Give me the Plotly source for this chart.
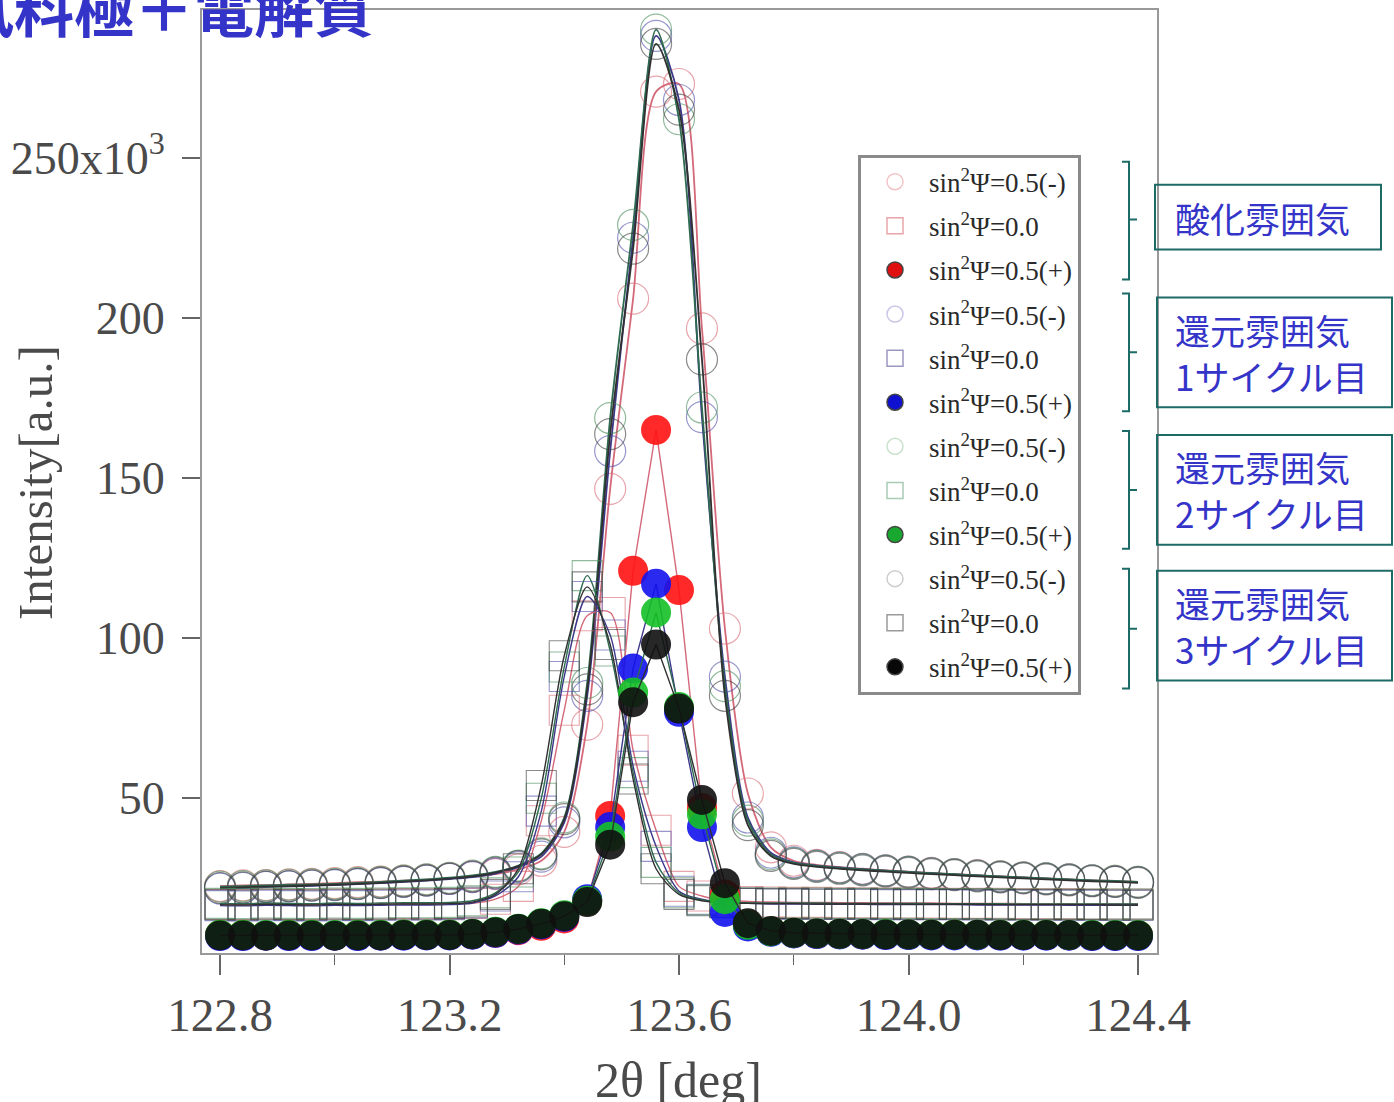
import plotly.graph_objects as go

# ---------------- data (intensity in 10^3 counts) ----------------
TWO_THETA = [122.80, 122.84, 122.88, 122.92, 122.96, 123.00, 123.04, 123.08, 123.12, 123.16,
             123.20, 123.24, 123.28, 123.32, 123.36, 123.40, 123.44, 123.48, 123.52, 123.56,
             123.60, 123.64, 123.68, 123.72, 123.76, 123.80, 123.84, 123.88, 123.92, 123.96,
             124.00, 124.04, 124.08, 124.12, 124.16, 124.20, 124.24, 124.28, 124.32, 124.36,
             124.40]

# oxidation atmosphere
OX_M = [22.6, 22.8, 22.9, 23.1, 23.3, 23.5, 23.8, 24.0, 24.3, 24.6, 25.0, 25.5, 26.3, 27.8, 30.5,
        39.5, 73.0, 146.6, 206.0, 270.6, 273.0, 196.7, 103.0, 51.5, 34.7, 30.5, 29.2, 28.5, 28.0,
        27.5, 27.1, 26.7, 26.3, 26.0, 25.6, 25.3, 25.0, 24.7, 24.4, 24.2, 23.9]
OX_0 = [16.9, 16.8, 17.0, 16.9, 16.8, 17.0, 16.9, 17.0, 17.1, 17.0, 17.1, 17.2, 18.5, 22.5, 43.0,
        77.5, 107.0, 108.0, 65.0, 40.0, 22.5, 19.5, 18.2, 17.8, 17.6, 17.5, 17.5, 17.4, 17.4,
        17.3, 17.3, 17.3, 17.2, 17.2, 17.2, 17.1, 17.1, 17.1, 17.0, 17.0, 17.0]
OX_P = [7.3, 7.3, 7.2, 7.3, 7.3, 7.2, 7.3, 7.3, 7.4, 7.4, 7.4, 7.5, 8.0, 8.8, 10.2,
        12.5, 18.0, 44.5, 121.0, 165.0, 115.0, 47.0, 20.0, 10.5, 8.5, 7.9, 7.7, 7.6, 7.5,
        7.5, 7.4, 7.4, 7.4, 7.3, 7.3, 7.3, 7.3, 7.2, 7.2, 7.2, 7.2]

# reduction atmosphere, cycle 1
R1_M = [21.8, 22.0, 22.3, 22.5, 22.7, 22.9, 23.2, 23.5, 23.9, 24.3, 24.8, 25.4, 26.5, 28.5, 31.8,
        42.5, 82.0, 158.4, 225.0, 288.0, 268.0, 169.0, 88.0, 44.0, 33.0, 30.0, 29.0, 28.4, 27.9,
        27.4, 27.0, 26.6, 26.2, 25.9, 25.5, 25.2, 24.9, 24.6, 24.3, 24.0, 23.8]
R1_0 = [16.5, 16.4, 16.6, 16.5, 16.4, 16.6, 16.5, 16.6, 16.7, 16.7, 16.8, 17.3, 19.5, 25.5, 46.0,
        88.0, 113.0, 101.0, 60.0, 35.0, 21.0, 18.5, 17.5, 17.2, 17.0, 17.0, 16.9, 16.9, 16.9,
        16.8, 16.8, 16.8, 16.8, 16.7, 16.7, 16.7, 16.7, 16.6, 16.6, 16.6, 16.6]
R1_P = [7.0, 7.0, 7.1, 7.0, 7.0, 7.1, 7.0, 7.1, 7.1, 7.2, 7.2, 7.4, 8.0, 9.0, 10.6,
        13.0, 18.5, 41.0, 90.5, 117.0, 77.0, 41.0, 14.5, 10.0, 8.3, 7.8, 7.6, 7.5, 7.4,
        7.3, 7.3, 7.2, 7.2, 7.2, 7.1, 7.1, 7.1, 7.1, 7.0, 7.0, 7.0]

# reduction atmosphere, cycle 2
R2_M = [22.4, 22.6, 22.8, 23.0, 23.1, 23.3, 23.6, 23.9, 24.3, 24.7, 25.2, 25.9, 27.0, 29.0, 32.8,
        44.0, 86.0, 168.7, 229.0, 290.0, 262.0, 172.0, 85.0, 43.0, 32.5, 29.8, 28.9, 28.3, 27.8,
        27.4, 27.0, 26.6, 26.3, 25.9, 25.6, 25.3, 25.0, 24.7, 24.4, 24.2, 23.9]
R2_0 = [17.2, 17.1, 17.3, 17.2, 17.1, 17.3, 17.2, 17.3, 17.4, 17.4, 17.5, 18.0, 20.5, 27.0, 50.0,
        91.0, 119.5, 96.0, 58.0, 30.0, 20.5, 18.3, 17.6, 17.4, 17.3, 17.3, 17.3, 17.2, 17.2,
        17.2, 17.2, 17.1, 17.1, 17.1, 17.1, 17.0, 17.0, 17.0, 17.0, 17.0, 17.0]
R2_P = [7.4, 7.4, 7.3, 7.4, 7.4, 7.3, 7.4, 7.4, 7.5, 7.5, 7.5, 7.7, 8.3, 9.3, 11.0,
        13.5, 18.0, 38.0, 83.0, 108.0, 78.5, 45.0, 18.5, 10.5, 8.5, 8.0, 7.8, 7.7, 7.6,
        7.6, 7.5, 7.5, 7.5, 7.4, 7.4, 7.4, 7.4, 7.3, 7.3, 7.3, 7.3]

# reduction atmosphere, cycle 3
R3_M = [22.0, 22.2, 22.4, 22.6, 22.8, 23.0, 23.3, 23.6, 24.0, 24.4, 24.9, 25.6, 26.8, 28.8, 32.5,
        43.5, 84.0, 163.7, 221.6, 285.5, 265.0, 187.0, 82.0, 41.6, 32.0, 29.5, 28.6, 28.0, 27.5,
        27.1, 26.7, 26.3, 26.0, 25.6, 25.3, 25.0, 24.7, 24.4, 24.1, 23.9, 23.6]
R3_0 = [16.8, 16.7, 16.9, 16.8, 16.7, 16.9, 16.8, 16.9, 17.0, 17.0, 17.1, 17.6, 20.0, 28.0, 54.0,
        94.5, 116.0, 98.0, 56.0, 28.0, 20.0, 18.0, 17.4, 17.2, 17.1, 17.1, 17.0, 17.0, 17.0,
        17.0, 16.9, 16.9, 16.9, 16.9, 16.8, 16.8, 16.8, 16.8, 16.8, 16.7, 16.7]
R3_P = [7.2, 7.2, 7.1, 7.2, 7.2, 7.1, 7.2, 7.2, 7.3, 7.3, 7.3, 7.6, 8.2, 9.2, 10.8,
        13.2, 17.6, 35.5, 80.0, 98.0, 78.0, 49.5, 23.5, 11.0, 8.6, 8.0, 7.8, 7.7, 7.6,
        7.5, 7.5, 7.4, 7.4, 7.4, 7.3, 7.3, 7.3, 7.3, 7.2, 7.2, 7.2]

X_TICKS = [122.8, 123.2, 123.6, 124.0, 124.4]
X_TICK_TEXT = ["122.8", "123.2", "123.6", "124.0", "124.4"]
X_MINOR = [123.0, 123.4, 123.8, 124.2]
Y_TICKS = [50, 100, 150, 200, 250]
Y_TICK_TEXT = ["50", "100", "150", "200", "250x10<sup>3</sup>"]

LEGEND_TEXT = ["sin<sup>2</sup>Ψ=0.5(-)", "sin<sup>2</sup>Ψ=0.0", "sin<sup>2</sup>Ψ=0.5(+)"]
GROUP_LABELS = ["酸化雰囲気", "還元雰囲気<br>1サイクル目",
                "還元雰囲気<br>2サイクル目", "還元雰囲気<br>3サイクル目"]
TITLE = "試料極＋電解質"

# ---------------- styling ----------------
W, H = 1394, 1102
L, R, T, B = 202, 1157, 8, 953
SERIF = "Liberation Serif, Times New Roman, serif"
JP = "Noto Sans CJK JP, Noto Sans, sans-serif"
BLUE_TXT = "#3434c8"
TEAL = "#1d6b66"


def px(x):
    return (x - L) / (R - L)


def py(y):
    return (B - y) / (B - T)


groups = [
    dict(m=OX_M, z=OX_0, p=OX_P, oc="rgba(215,105,115,0.6)", lc="#d4697a", fc="#ff1212",
         leg=["#f2c4c6", "#e8a4a8", "#e01010"]),
    dict(m=R1_M, z=R1_0, p=R1_P, oc="rgba(80,80,170,0.6)", lc="#3d378a", fc="#1212ee",
         leg=["#c9c6e6", "#9a98c0", "#1010d0"]),
    dict(m=R2_M, z=R2_0, p=R2_P, oc="rgba(70,140,90,0.6)", lc="#2d6a50", fc="#14c026",
         leg=["#c8e2cc", "#a8ccb4", "#18a830"]),
    dict(m=R3_M, z=R3_0, p=R3_P, oc="rgba(60,60,60,0.6)", lc="#303030", fc="#101010",
         leg=["#cccccc", "#9a9a9a", "#080808"]),
]

fig = go.Figure()

# open circles with smoothed curves
for g in groups:
    fig.add_trace(go.Scatter(
        x=TWO_THETA, y=g["m"], mode="lines+markers", showlegend=False,
        line=dict(color=g["lc"], width=1.8, shape="spline", smoothing=0.8),
        marker=dict(symbol="circle-open", size=31, color=g["oc"], line=dict(width=1.2)),
    ))
# open squares with smoothed curves
for g in groups:
    fig.add_trace(go.Scatter(
        x=TWO_THETA, y=g["z"], mode="lines+markers", showlegend=False,
        line=dict(color=g["lc"], width=1.4, shape="spline", smoothing=0.8),
        marker=dict(symbol="square-open", size=30, color=g["oc"], line=dict(width=1.1)),
    ))
# filled circles, straight connections
for g in groups:
    fig.add_trace(go.Scatter(
        x=TWO_THETA, y=g["p"], mode="lines+markers", showlegend=False,
        line=dict(color=g["lc"], width=1.4),
        marker=dict(symbol="circle", size=30, color=g["fc"], opacity=0.9, line=dict(width=0)),
    ))

# legend entries
symbols = ["circle-open", "square-open", "circle"]
for gi, g in enumerate(groups):
    for k in range(3):
        fig.add_trace(go.Scatter(
            x=[None], y=[None], mode="markers", name=LEGEND_TEXT[k],
            legendgroup=f"g{gi}{k}",
            marker=dict(symbol=symbols[k], size=16, color=g["leg"][k],
                        line=dict(width=1.5)),
        ))

shapes = []
annotations = []

# brackets
for top, bot, mid in [(160, 278, 218), (292, 410, 351), (430, 548, 489), (568, 688, 628)]:
    shapes.append(dict(type="path", xref="paper", yref="paper",
                       path=f"M {px(1122)},{py(top)} L {px(1129)},{py(top)} L {px(1129)},{py(bot)} "
                            f"L {px(1122)},{py(bot)} M {px(1129)},{py(mid)} L {px(1137)},{py(mid)}",
                       line=dict(color=TEAL, width=2)))

# boxes
boxes = [(1155, 183, 1381, 248), (1157, 296, 1392, 406), (1157, 434, 1392, 544), (1157, 570, 1392, 680)]
for (x0, y0, x1, y1), txt in zip(boxes, GROUP_LABELS):
    shapes.append(dict(type="rect", xref="paper", yref="paper",
                       x0=px(x0), x1=px(x1), y0=py(y1), y1=py(y0),
                       line=dict(color=TEAL, width=2), fillcolor="rgba(0,0,0,0)"))
    annotations.append(dict(text=txt, xref="paper", yref="paper", x=px(1173), y=py((y0 + y1) / 2),
                            xanchor="left", yanchor="middle", align="left", showarrow=False,
                            font=dict(family=JP, size=35, color=BLUE_TXT)))

# title (partly outside page)
annotations.append(dict(text="<b>" + TITLE + "</b>", xref="paper", yref="paper", x=px(376), y=py(3),
                        xanchor="right", yanchor="middle", showarrow=False,
                        font=dict(family=JP, size=60, color=BLUE_TXT)))
# axis titles
annotations.append(dict(text="Intensity[a.u.]", xref="paper", yref="paper", x=px(36), y=py(482),
                        xanchor="center", yanchor="middle", showarrow=False, textangle=-90,
                        font=dict(family=SERIF, size=49, color="#4a4a4a")))
annotations.append(dict(text="2θ [deg]", xref="paper", yref="paper", x=px(678), y=py(1080),
                        xanchor="center", yanchor="middle", showarrow=False,
                        font=dict(family=SERIF, size=50, color="#4a4a4a")))

fig.update_layout(
    width=W, height=H,
    margin=dict(l=L, r=W - R, t=T, b=H - B, pad=0),
    paper_bgcolor="white", plot_bgcolor="white",
    shapes=shapes, annotations=annotations,
    legend=dict(x=px(858), y=py(153), xanchor="left", yanchor="top",
                bgcolor="white", bordercolor="#8a8a8a", borderwidth=3,
                font=dict(family=SERIF, size=27, color="#2a2a2a"),
                tracegroupgap=6, itemsizing="trace", traceorder="grouped",
                itemwidth=58),
    xaxis=dict(range=[122.7686, 124.4331], tickvals=X_TICKS, ticktext=X_TICK_TEXT,
               ticks="outside", ticklen=20, tickwidth=1.5, tickcolor="#666",
               minor=dict(tickvals=X_MINOR, ticks="outside", ticklen=10, tickwidth=1.2, tickcolor="#666"),
               showline=True, mirror=True, linecolor="#999", linewidth=2,
               showgrid=False, zeroline=False, ticklabelstandoff=0,
               tickfont=dict(family=SERIF, size=47, color="#4a4a4a")),
    yaxis=dict(range=[1.7, 296.1], tickvals=Y_TICKS, ticktext=Y_TICK_TEXT,
               ticks="outside", ticklen=18, tickwidth=1.5, tickcolor="#666",
               showline=True, mirror=True, linecolor="#999", linewidth=2,
               showgrid=False, zeroline=False, ticklabelstandoff=8,
               tickfont=dict(family=SERIF, size=46, color="#4a4a4a")),
)

fig.write_html("out.html")
